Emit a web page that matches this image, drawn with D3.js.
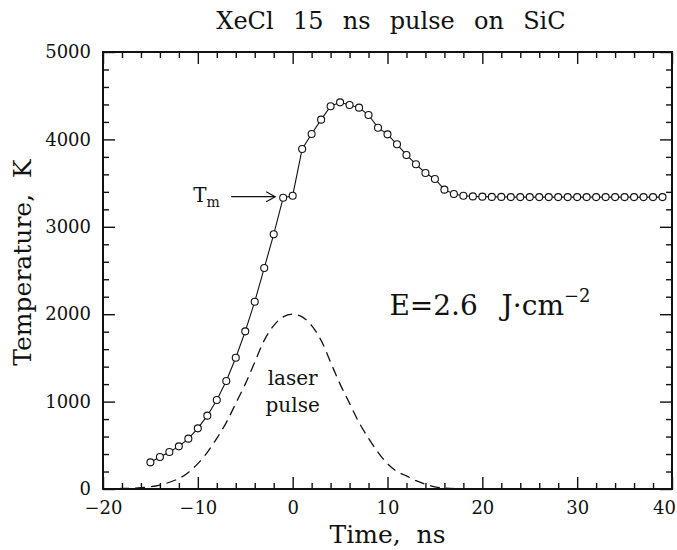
<!DOCTYPE html>
<html>
<head>
<meta charset="utf-8">
<script src="https://cdn.jsdelivr.net/npm/d3@7"></script>
<style>
    body { margin: 0; background: #fff; }
    svg text { font-family: "DejaVu Serif", serif; fill: #111; white-space: pre; }
</style>
</head>
<body>
<div id="chart"></div>
<script>

// surface temperature, simulation points (ns, K)
const simTime = [-15, -14, -13, -12, -11, -10, -9, -8, -7, -6, -5, -4, -3, -2, -1,
    0, 1, 2, 3, 4, 5, 6, 7, 8, 9, 10, 11, 12, 13, 14, 15, 16, 17, 18, 19,
    20, 21, 22, 23, 24, 25, 26, 27, 28, 29, 30, 31, 32, 33, 34, 35, 36, 37, 38, 39];
const simTemp = [305, 366, 423, 488, 576, 694, 839, 1018, 1236, 1502, 1804, 2143, 2528, 2914, 3333,
    3356, 3890, 4062, 4226, 4379, 4424, 4394, 4363, 4279, 4134, 4058, 3944, 3822, 3715, 3616, 3547, 3425, 3375, 3356, 3348,
    3345, 3342, 3342, 3340, 3340, 3340, 3340, 3340, 3340, 3340, 3340, 3340, 3340, 3340, 3340, 3340, 3340, 3340, 3340, 3340];

// laser pulse shape (arbitrary units, drawn on the K scale)
const pulseTime = [-20, -18, -16, -14, -12, -11, -10, -9, -8, -7, -6, -5, -4, -3, -2, -1, 0,
    1, 2, 3, 4, 5, 6, 7, 8, 9, 10, 11, 12, 13, 14, 15, 16, 18, 20];
const pulseTemp = [0, 6, 15, 45, 120, 190, 290, 420, 580, 760, 980, 1200, 1450, 1700, 1870, 1970, 2000,
    1970, 1870, 1700, 1450, 1200, 980, 760, 580, 420, 290, 200, 150, 95, 55, 25, 10, 3, 0];

const xTicks = [-20, -10, 0, 10, 20, 30, 40];
const yTicks = [0, 1000, 2000, 3000, 4000, 5000];

const meltTime = -1;
const meltTemp = 3333;

class TemperatureChart {

    constructor(width = 677, height = 550) {

        this.width = width;
        this.height = height;
        this.margin = { top: 52, right: 5, bottom: 61, left: 103 };
    }

    initialize(divChartId) {

        this.div = d3.select(divChartId);
        this.innerW = this.width - this.margin.left - this.margin.right;
        this.innerH = this.height - this.margin.top - this.margin.bottom;
    }

    draw() {

        const m = this.margin;

        const svg = this.div
            .html("")
            .append("svg")
            .attr("width", this.width)
            .attr("height", this.height);

        const g = svg.append("g")
            .attr("transform", `translate(${m.left},${m.top})`);

        const x = d3.scaleLinear().domain([-20, 40]).range([0, this.innerW]);
        const y = d3.scaleLinear().domain([0, 5000]).range([this.innerH, 0]);

        const minorX = d3.range(-20, 41, 2).filter(v => !xTicks.includes(v));
        const minorY = d3.range(0, 5001, 200).filter(v => !yTicks.includes(v));

        // bottom with labels, other sides mirrored, all ticks pointing in
        const bottom = g.append("g")
            .attr("class", "axis")
            .attr("transform", `translate(0,${this.innerH})`)
            .call(d3.axisBottom(x).tickValues(xTicks).tickSizeInner(-12).tickSizeOuter(0).tickPadding(12)
                .tickFormat(d => d < 0 ? "\u2212" + Math.abs(d) : String(d)));

        bottom.selectAll("text")
            .attr("dx", d => d === 40 ? -8 : 0);

        g.append("g")
            .attr("class", "axis")
            .attr("transform", `translate(0,${this.innerH})`)
            .call(d3.axisBottom(x).tickValues(minorX).tickSizeInner(-6).tickSizeOuter(0).tickFormat(""));

        g.append("g")
            .attr("class", "axis")
            .call(d3.axisTop(x).tickValues(xTicks).tickSizeInner(-12).tickSizeOuter(0).tickFormat(""));

        g.append("g")
            .attr("class", "axis")
            .call(d3.axisTop(x).tickValues(minorX).tickSizeInner(-6).tickSizeOuter(0).tickFormat(""));

        g.append("g")
            .attr("class", "axis")
            .call(d3.axisLeft(y).tickValues(yTicks).tickSizeInner(-12).tickSizeOuter(0).tickPadding(12)
                .tickFormat(d => String(d)));

        g.append("g")
            .attr("class", "axis")
            .call(d3.axisLeft(y).tickValues(minorY).tickSizeInner(-6).tickSizeOuter(0).tickFormat(""));

        g.append("g")
            .attr("class", "axis")
            .attr("transform", `translate(${this.innerW},0)`)
            .call(d3.axisRight(y).tickValues(yTicks).tickSizeInner(-12).tickSizeOuter(0).tickFormat(""));

        g.append("g")
            .attr("class", "axis")
            .attr("transform", `translate(${this.innerW},0)`)
            .call(d3.axisRight(y).tickValues(minorY).tickSizeInner(-6).tickSizeOuter(0).tickFormat(""));

        g.selectAll(".axis .domain").remove();
        g.selectAll(".axis line")
            .attr("stroke", "#111")
            .attr("stroke-width", 1.4);
        g.selectAll(".axis text")
            .style("font-family", "'DejaVu Serif', serif")
            .style("font-size", "18px")
            .attr("fill", "#111");

        g.append("rect")
            .attr("width", this.innerW)
            .attr("height", this.innerH)
            .attr("fill", "none")
            .attr("stroke", "#111")
            .attr("stroke-width", 2);

        // laser pulse
        const pulse = pulseTime.map((t, i) => ({ t, v: pulseTemp[i] }));

        g.append("path")
            .datum(pulse)
            .attr("fill", "none")
            .attr("stroke", "#111")
            .attr("stroke-width", 1.3)
            .attr("stroke-dasharray", "10,6")
            .attr("d", d3.line().x(d => x(d.t)).y(d => y(d.v)).curve(d3.curveCatmullRom));

        // temperature
        const sim = simTime.map((t, i) => ({ t, v: simTemp[i] }));

        g.append("path")
            .datum(sim)
            .attr("fill", "none")
            .attr("stroke", "#111")
            .attr("stroke-width", 1.1)
            .attr("d", d3.line().x(d => x(d.t)).y(d => y(d.v)));

        g.selectAll(".pt")
            .data(sim)
            .enter()
            .append("circle")
            .attr("class", "pt")
            .attr("cx", d => x(d.t))
            .attr("cy", d => y(d.v))
            .attr("r", 3.5)
            .attr("fill", "#fff")
            .attr("stroke", "#111")
            .attr("stroke-width", 1.1);

        // T_m arrow
        const tipX = x(meltTime) - 8;
        const tipY = y(meltTemp) - 1;

        g.append("line")
            .attr("x1", tipX - 44).attr("y1", tipY)
            .attr("x2", tipX).attr("y2", tipY)
            .attr("stroke", "#111").attr("stroke-width", 1.2);

        g.append("path")
            .attr("d", `M${tipX - 9},${tipY - 5} L${tipX},${tipY} L${tipX - 9},${tipY + 5}`)
            .attr("fill", "none").attr("stroke", "#111").attr("stroke-width", 1.2);

        const tm = g.append("text")
            .attr("x", tipX - 82)
            .attr("y", tipY + 5)
            .style("font-size", "20px");
        tm.append("tspan").text("T");
        tm.append("tspan").attr("dy", 5).style("font-size", "14px").text("m");

        // pulse label
        g.append("text")
            .attr("x", x(0))
            .attr("y", y(1190))
            .attr("text-anchor", "middle")
            .style("font-size", "20px")
            .text("laser");

        g.append("text")
            .attr("x", x(0))
            .attr("y", y(880))
            .attr("text-anchor", "middle")
            .style("font-size", "20px")
            .text("pulse");

        // fluence
        const e = g.append("text")
            .attr("x", x(10.2))
            .attr("y", y(1990))
            .style("font-size", "28px")
            .style("word-spacing", "3px");
        e.append("tspan").text("E=2.6  J\u00b7cm");
        e.append("tspan").attr("dy", -13).style("font-size", "18px").text("\u22122");

        // titles
        svg.append("text")
            .attr("x", 391)
            .attr("y", 29)
            .attr("text-anchor", "middle")
            .style("font-size", "24px")
            .style("word-spacing", "2px")
            .text("XeCl  15  ns  pulse  on  SiC");

        svg.append("text")
            .attr("x", m.left + this.innerW / 2)
            .attr("y", 543)
            .attr("text-anchor", "middle")
            .style("font-size", "25px")
            .text("Time,  ns");

        svg.append("text")
            .attr("transform", `translate(31,${m.top + this.innerH / 2 - 8}) rotate(-90)`)
            .attr("text-anchor", "middle")
            .style("font-size", "25px")
            .text("Temperature,  K");
    }
}

const chart = new TemperatureChart();
chart.initialize("#chart");
chart.draw();

</script>
</body>
</html>
